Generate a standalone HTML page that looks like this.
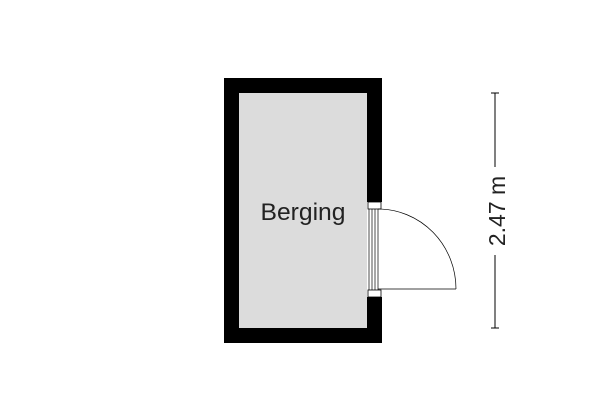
<!DOCTYPE html>
<html><head><style>body{margin:0;background:#fff}</style></head><body>
<svg width="600" height="400" viewBox="0 0 600 400" xmlns="http://www.w3.org/2000/svg">
<rect x="224" y="78" width="158" height="265" fill="#000"/>
<rect x="239" y="93" width="128" height="235" fill="#dcdcdc"/>
<rect x="367" y="202" width="15" height="95" fill="#fff"/>
<rect x="368" y="202" width="13" height="7" fill="#fff" stroke="#000" stroke-width="0.8"/>
<rect x="368" y="290" width="13" height="7" fill="#fff" stroke="#000" stroke-width="0.8"/>
<g stroke="#000" stroke-width="0.7" fill="none">
<line x1="369" y1="209" x2="369" y2="290"/>
<line x1="372" y1="209" x2="372" y2="290"/>
<line x1="375" y1="209" x2="375" y2="290"/>
<line x1="378" y1="209" x2="378" y2="290"/>
<line x1="378" y1="289" x2="456" y2="289"/>
<path d="M378 209 A78 80 0 0 1 456 289"/>
<line x1="495" y1="93" x2="495" y2="167" stroke-width="1"/>
<line x1="495" y1="255" x2="495" y2="328" stroke-width="1"/>
<line x1="491" y1="93" x2="499" y2="93" stroke-width="1"/>
<line x1="491" y1="328" x2="499" y2="328" stroke-width="1"/>
</g>
<text x="303" y="220" font-family="Liberation Sans, sans-serif" font-size="24" text-anchor="middle" fill="#222" textLength="85" lengthAdjust="spacingAndGlyphs">Berging</text>
<text transform="translate(505,211) rotate(-90)" font-family="Liberation Sans, sans-serif" font-size="23" text-anchor="middle" fill="#222">2.47 m</text>
</svg>
</body></html>
